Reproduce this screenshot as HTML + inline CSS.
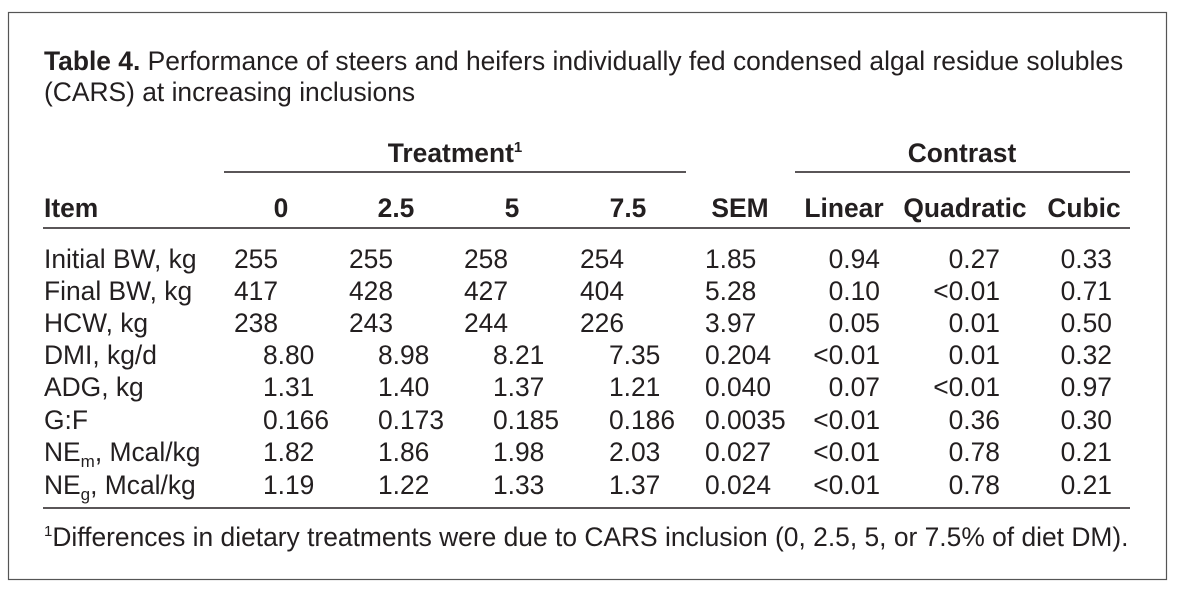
<!DOCTYPE html>
<html><head><meta charset="utf-8"><style>
body{margin:0;background:#fff}
svg{display:block;font-family:"Liberation Sans",Arial,sans-serif;font-size:26.4px;fill:#231f20}
</style></head><body>
<svg width="1177" height="589" viewBox="0 0 1177 589">
<rect x="8.5" y="12.5" width="1158" height="567" fill="none" stroke="#555" stroke-width="1.2"/>
<text x="44" y="70"><tspan font-weight="bold">Table 4.</tspan> Performance of steers and heifers individually fed condensed algal residue solubles</text>
<text x="44" y="101">(CARS) at increasing inclusions</text>
<text x="455" y="162" text-anchor="middle" font-weight="bold">Treatment<tspan font-size="15" dy="-10">1</tspan></text>
<text x="962" y="162" text-anchor="middle" font-weight="bold">Contrast</text>
<line x1="224" y1="172" x2="686" y2="172" stroke="#231f20" stroke-width="1.5"/>
<line x1="795" y1="172" x2="1130" y2="172" stroke="#231f20" stroke-width="1.5"/>
<g font-weight="bold">
<text x="44" y="217">Item</text>
<text x="281" y="217" text-anchor="middle">0</text>
<text x="396" y="217" text-anchor="middle">2.5</text>
<text x="512" y="217" text-anchor="middle">5</text>
<text x="628" y="217" text-anchor="middle">7.5</text>
<text x="740" y="217" text-anchor="middle">SEM</text>
<text x="844" y="217" text-anchor="middle">Linear</text>
<text x="965" y="217" text-anchor="middle">Quadratic</text>
<text x="1084" y="217" text-anchor="middle">Cubic</text>
</g>
<line x1="43" y1="228" x2="1130" y2="228" stroke="#231f20" stroke-width="1.5"/>
<g id="rows"></g>
<line x1="43" y1="508" x2="1130" y2="508" stroke="#231f20" stroke-width="1.5"/>
<text x="44" y="546"><tspan font-size="15" dy="-10">1</tspan><tspan dy="10">Differences in dietary treatments were due to CARS inclusion (0, 2.5, 5, or 7.5% of diet DM).</tspan></text>
</svg>
<script>
const items=["Initial BW, kg","Final BW, kg","HCW, kg","DMI, kg/d","ADG, kg","G:F","NE_m, Mcal/kg","NE_g, Mcal/kg"];
const t0=["255","417","238","8.80","1.31","0.166","1.82","1.19"];
const t25=["255","428","243","8.98","1.40","0.173","1.86","1.22"];
const t5=["258","427","244","8.21","1.37","0.185","1.98","1.33"];
const t75=["254","404","226","7.35","1.21","0.186","2.03","1.37"];
const sem=["1.85","5.28","3.97","0.204","0.040","0.0035","0.027","0.024"];
const linear=["0.94","0.10","0.05","<0.01","0.07","<0.01","<0.01","<0.01"];
const quad=["0.27","<0.01","0.01","0.01","<0.01","0.36","0.78","0.78"];
const cubic=["0.33","0.71","0.50","0.32","0.97","0.30","0.21","0.21"];
const NS="http://www.w3.org/2000/svg";
const g=document.getElementById('rows');
const baselines=[268,300,332,364,396,429,461,494];
function txt(x,y,s,anchor,name){
  const t=document.createElementNS(NS,'text');
  t.setAttribute('x',x);t.setAttribute('y',y);
  if(anchor)t.setAttribute('text-anchor',anchor);
  
  
  if(s.indexOf('_')>=0){
    const [a,rest]=s.split('_');
    const sub=rest.charAt(0),tail=rest.slice(1);
    const p1=document.createElementNS(NS,'tspan');p1.textContent=a;t.appendChild(p1);
    const p2=document.createElementNS(NS,'tspan');p2.textContent=sub;p2.setAttribute('font-size','17');p2.setAttribute('dy','6');t.appendChild(p2);
    const p3=document.createElementNS(NS,'tspan');p3.textContent=tail;p3.setAttribute('dy','-6');t.appendChild(p3);
  } else t.textContent=s;
  g.appendChild(t);
}
items.forEach((it,i)=>{
  const y=baselines[i];
  const off=i<3?0:29;
  txt(44,y,it,null,'row-label');
  txt(234+off,y,t0[i],null,'cell-0');
  txt(349+off,y,t25[i],null,'cell-2-5');
  txt(464+off,y,t5[i],null,'cell-5');
  txt(580+off,y,t75[i],null,'cell-7-5');
  txt(705,y,sem[i],null,'cell-sem');
  txt(880,y,linear[i],'end','cell-linear');
  txt(1000,y,quad[i],'end','cell-quadratic');
  txt(1112,y,cubic[i],'end','cell-cubic');
});
</script>
</body></html>
